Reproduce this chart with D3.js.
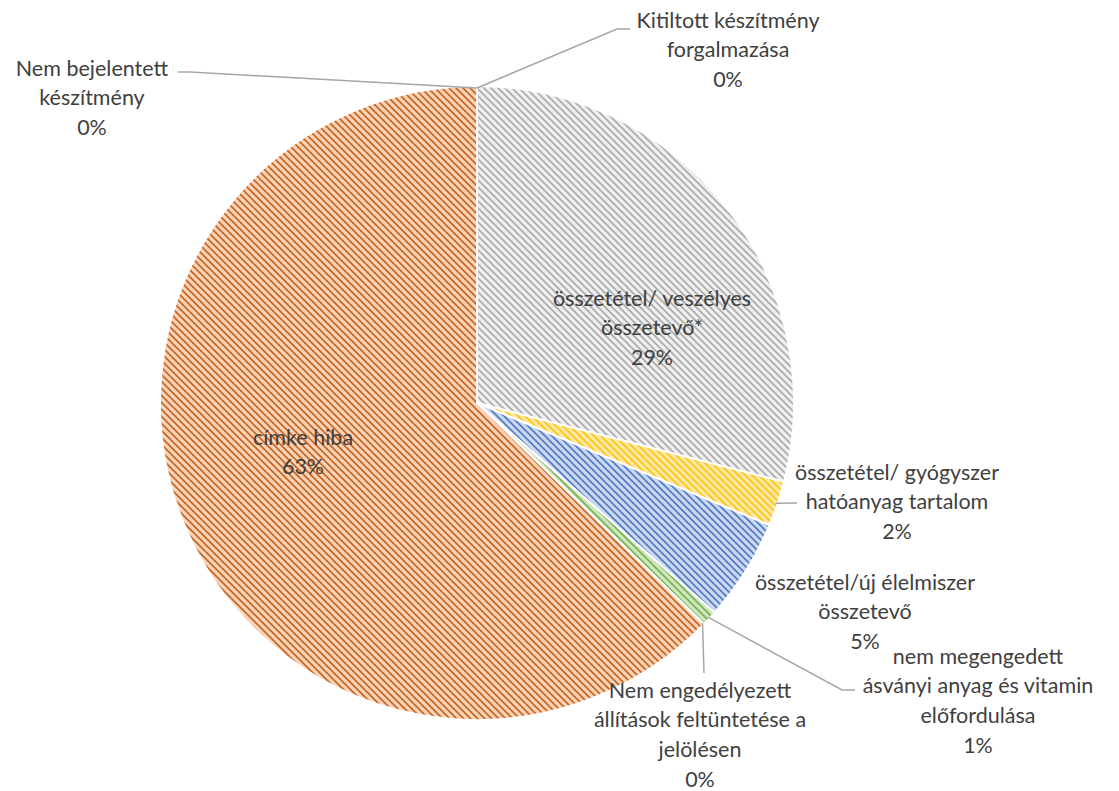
<!DOCTYPE html>
<html>
<head>
<meta charset="utf-8">
<script src="https://cdn.jsdelivr.net/npm/d3@7"></script>
<style>
  html, body { margin: 0; padding: 0; background: #fff; }
  .label { font-family: Lato, "Noto Sans", sans-serif; font-size: 21.5px; fill: #404040; }
  .leader { fill: none; stroke: #a6a6a6; stroke-width: 1.5; }
</style>
</head>
<body>
<div id="chart"></div>
<script>
// categories in clockwise order from 12 o'clock
const categories = [
  'Kitiltott készítmény forgalmazása',
  'összetétel/ veszélyes összetevő*',
  'összetétel/ gyógyszer hatóanyag tartalom',
  'összetétel/új élelmiszer összetevő',
  'nem megengedett ásványi anyag és vitamin előfordulása',
  'Nem engedélyezett állítások feltüntetése a jelölésen',
  'címke hiba',
  'Nem bejelentett készítmény'
];
// share of cases (%)
const values = [0, 29.0, 2.3, 5.2, 0.8, 0, 62.7, 0];
// label text lines as printed in the chart
const labelLines = [
  ['Kitiltott készítmény', 'forgalmazása', '0%'],
  ['összetétel/ veszélyes', 'összetevő*', '29%'],
  ['összetétel/ gyógyszer', 'hatóanyag tartalom', '2%'],
  ['összetétel/új élelmiszer', 'összetevő', '5%'],
  ['nem megengedett', 'ásványi anyag és vitamin', 'előfordulása', '1%'],
  ['Nem engedélyezett', 'állítások feltüntetése a', 'jelölésen', '0%'],
  ['címke hiba', '63%'],
  ['Nem bejelentett', 'készítmény', '0%']
];
const fills = ['#a5a5a5', '#a5a5a5', '#ffc000', '#4472c4', '#70ad47', '#5b9bd5', '#c55a11', '#264478'];
const backs = ['#efefef', '#efefef', '#ffe9a6', '#cbd8f0', '#cfe6bf', '#bdd7ee', '#fad3b8', '#b4c7e7'];

// label layout: center of label block, and leader line bend/end points (null = no leader)
const labelPos = [
  { x: 728, y: 20, lead: [[617, 29], [630, 29]] },
  { x: 652, y: 298, lead: null },
  { x: 897, y: 472, lead: [[797, 503]] },
  { x: 865, y: 582, lead: null },
  { x: 978, y: 656, lead: [[842, 690], [855, 690]] },
  { x: 700, y: 690, lead: [[704, 673]] },
  { x: 303, y: 437, lead: null },
  { x: 92, y: 68, lead: [[190, 72], [178, 72]] }
];

const width = 1119, height = 791;
const cx = 477, cy = 403, radius = 317;
const lineH = 29.8;

const svg = d3.select('#chart').append('svg')
  .attr('width', width)
  .attr('height', height);

const defs = svg.append('defs');
const ps = 7;
fills.forEach((c, i) => {
  const p = defs.append('pattern')
    .attr('id', 'hatch-' + i)
    .attr('patternUnits', 'userSpaceOnUse')
    .attr('width', ps)
    .attr('height', ps);
  p.append('rect').attr('width', ps).attr('height', ps).attr('fill', backs[i]);
  p.append('path')
    .attr('d', `M-1,-1 L${ps + 1},${ps + 1} M-3,${ps - 3} L3,${ps + 3} M${ps - 3},-3 L${ps + 3},3`)
    .attr('stroke', c)
    .attr('stroke-width', 1.7)
    .attr('stroke-opacity', 0.9);
});

const pie = d3.pie().sort(null).value(d => d)(values);
const arc = d3.arc().innerRadius(0).outerRadius(radius);
const edgeArc = d3.arc().innerRadius(radius - 2).outerRadius(radius - 2);

const g = svg.append('g').attr('transform', `translate(${cx},${cy})`);

g.selectAll('path.slice')
  .data(pie)
  .enter()
  .append('path')
  .attr('class', 'slice')
  .attr('d', arc)
  .attr('fill', (d, i) => `url(#hatch-${i})`)
  .attr('stroke', '#fff')
  .attr('stroke-width', 2)
  .attr('stroke-linejoin', 'round');

// leader lines
const leaders = svg.append('g');
pie.forEach((d, i) => {
  const lp = labelPos[i];
  if (!lp.lead) return;
  const c = edgeArc.centroid(d);
  const pts = [[cx + c[0], cy + c[1]]].concat(lp.lead);
  leaders.append('polyline')
    .attr('class', 'leader')
    .attr('points', pts.map(p => p.join(',')).join(' '));
});

// labels
const labels = svg.append('g');
labelLines.forEach((lines, i) => {
  const lp = labelPos[i];
  const t = labels.append('text')
    .attr('class', 'label')
    .attr('text-anchor', 'middle');
  lines.forEach((ln, k) => {
    t.append('tspan')
      .attr('x', lp.x)
      .attr('y', lp.y + k * lineH)
      .attr('dy', '0.35em')
      .text(ln);
  });
});
</script>
</body>
</html>
